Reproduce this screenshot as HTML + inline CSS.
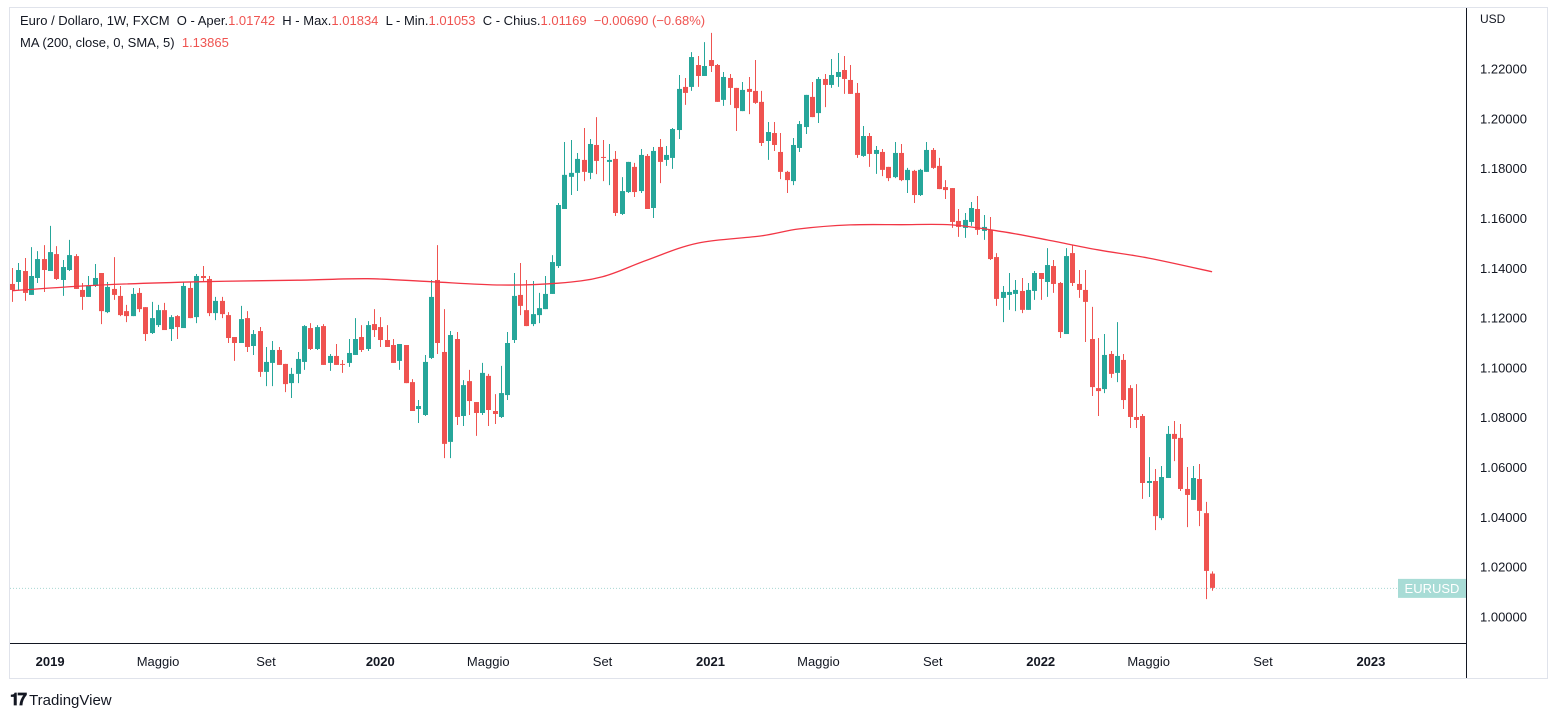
<!DOCTYPE html>
<html><head><meta charset="utf-8"><style>
html,body{margin:0;padding:0;background:#fff;width:1556px;height:716px;overflow:hidden;font-family:"Liberation Sans",sans-serif;}
#wrap{position:relative;width:1556px;height:716px;}
.hdr{position:absolute;left:20px;font-size:13px;color:#131722;white-space:pre;}
.hdr .v{color:#ef5350;}
</style></head><body>
<div id="wrap">
<svg id="chart" width="1556" height="716" style="position:absolute;left:0;top:0"></svg>
<div class="hdr" style="top:13px">Euro / Dollaro, 1W, FXCM  O - Aper.<span class="v">1.01742</span>  H - Max.<span class="v">1.01834</span>  L - Min.<span class="v">1.01053</span>  C - Chius.<span class="v">1.01169</span>  <span class="v">−0.00690 (−0.68%)</span></div>
<div class="hdr" style="top:35px">MA (200, close, 0, SMA, 5)  <span class="v">1.13865</span></div>
<div style="position:absolute;left:10px;top:690px;font-size:15px;color:#131722;font-weight:bold"><span style="font-size:17px;letter-spacing:-2px">𝟏𝟕</span> <span style="font-weight:normal">TradingView</span></div>
</div>
<script>
const opens=[1.1337,1.1345,1.1389,1.1293,1.1361,1.1437,1.1389,1.1457,1.1353,1.1393,1.1449,1.1313,1.1285,1.1329,1.1381,1.1224,1.1317,1.1289,1.1228,1.1208,1.1301,1.1244,1.1140,1.1172,1.1232,1.1156,1.1208,1.1160,1.1321,1.1204,1.1369,1.1357,1.1220,1.1269,1.1212,1.1124,1.1100,1.1200,1.1088,1.1148,1.0984,1.1020,1.1072,1.1016,1.0939,1.0976,1.1024,1.1160,1.1076,1.1168,1.1020,1.1048,1.1016,1.1020,1.1052,1.1124,1.1076,1.1176,1.1164,1.1112,1.1092,1.1028,1.1092,1.0943,1.0835,1.0811,1.1040,1.1353,1.1064,1.0703,1.1116,1.0807,1.0947,1.0863,1.0819,1.0968,1.0827,1.0803,1.0891,1.1112,1.1293,1.1232,1.1176,1.1212,1.1236,1.1297,1.1409,1.1638,1.1767,1.1783,1.1835,1.1783,1.1895,1.1847,1.1827,1.1839,1.1618,1.1706,1.1807,1.1710,1.1851,1.1642,1.1887,1.1835,1.1843,1.1955,1.2128,1.2128,1.2216,1.2172,1.2236,1.2216,1.2076,1.2164,1.2124,1.2031,1.2120,1.2112,1.2068,1.1911,1.1943,1.1867,1.1787,1.1750,1.1883,1.1967,1.2088,1.2023,1.2160,1.2136,1.2168,1.2196,1.2156,1.2104,1.1851,1.1931,1.1859,1.1867,1.1807,1.1766,1.1863,1.1754,1.1791,1.1694,1.1787,1.1875,1.1811,1.1726,1.1722,1.1590,1.1562,1.1586,1.1638,1.1550,1.1554,1.1445,1.1281,1.1293,1.1297,1.1309,1.1233,1.1309,1.1381,1.1345,1.1409,1.1341,1.1136,1.1461,1.1337,1.1313,1.1116,1.0919,1.0915,1.1056,1.0980,1.1032,1.0919,1.0803,1.0807,1.0538,1.0546,1.0397,1.0558,1.0735,1.0719,1.0514,1.0470,1.0554,1.0417,1.01742];
const highs=[1.1401,1.1421,1.1441,1.1485,1.1469,1.1493,1.1570,1.1489,1.1433,1.1514,1.1457,1.1341,1.1369,1.1417,1.1381,1.1345,1.1445,1.1329,1.1253,1.1321,1.1321,1.1244,1.1265,1.1253,1.1261,1.1212,1.1212,1.1345,1.1345,1.1377,1.1409,1.1369,1.1285,1.1285,1.1224,1.1124,1.1249,1.1228,1.1152,1.1164,1.1084,1.1108,1.1084,1.1016,1.1000,1.1064,1.1172,1.1180,1.1172,1.1176,1.1056,1.1096,1.1032,1.1116,1.1200,1.1172,1.1188,1.1236,1.1204,1.1172,1.1116,1.1096,1.1092,1.0955,1.0871,1.1052,1.1353,1.1493,1.1236,1.1148,1.1144,1.0951,1.0992,1.0863,1.1020,1.0976,1.0895,1.1008,1.1144,1.1381,1.1421,1.1353,1.1349,1.1301,1.1369,1.1453,1.1662,1.1907,1.1915,1.1863,1.1963,1.1919,1.2007,1.1915,1.1899,1.1871,1.1766,1.1827,1.1823,1.1879,1.1859,1.1887,1.1919,1.1891,1.1963,1.2176,1.2164,1.2268,1.2252,1.2308,1.2345,1.2220,1.2188,1.2180,1.2124,1.2148,1.2168,1.2236,1.2112,1.1987,1.1987,1.1943,1.1791,1.1923,1.1991,1.2096,1.2148,1.2168,1.2180,1.2240,1.2264,1.2252,1.2216,1.2144,1.1971,1.1943,1.1891,1.1879,1.1807,1.1907,1.1899,1.1803,1.1795,1.1799,1.1907,1.1883,1.1843,1.1754,1.1722,1.1638,1.1622,1.1666,1.1690,1.1614,1.1606,1.1461,1.1329,1.1381,1.1353,1.1361,1.1341,1.1389,1.1381,1.1481,1.1433,1.1345,1.1481,1.1493,1.1393,1.1393,1.1245,1.1120,1.1136,1.1068,1.1184,1.1056,1.0931,1.0935,1.0815,1.0642,1.0594,1.0606,1.0767,1.0787,1.0775,1.0602,1.0606,1.0614,1.0462,1.01834];
const lows=[1.1265,1.1313,1.1269,1.1293,1.1341,1.1305,1.1389,1.1353,1.1289,1.1389,1.1317,1.1233,1.1285,1.1325,1.1176,1.1220,1.1273,1.1208,1.1184,1.1208,1.1224,1.1108,1.1136,1.1164,1.1152,1.1108,1.1116,1.1160,1.1200,1.1180,1.1345,1.1208,1.1192,1.1200,1.1100,1.1028,1.1100,1.1064,1.1052,1.0964,1.0927,1.0927,1.1012,1.0903,1.0879,1.0939,1.0992,1.1072,1.1072,1.1012,1.0988,1.1012,1.0980,1.1004,1.1052,1.1064,1.1068,1.1124,1.1084,1.1084,1.1020,1.0992,1.0939,1.0827,1.0779,1.0807,1.1036,1.1056,1.0638,1.0638,1.0771,1.0767,1.0811,1.0727,1.0811,1.0767,1.0775,1.0799,1.0871,1.1100,1.1212,1.1168,1.1168,1.1180,1.1236,1.1297,1.1401,1.1638,1.1694,1.1710,1.1750,1.1758,1.1778,1.1750,1.1734,1.1610,1.1614,1.1702,1.1686,1.1702,1.1638,1.1602,1.1742,1.1811,1.1799,1.1919,1.2056,1.2112,1.2128,1.2172,1.2188,1.2068,1.2052,1.2056,1.1951,1.2031,1.2019,1.2060,1.1891,1.1835,1.1871,1.1758,1.1702,1.1734,1.1867,1.1939,1.2007,1.1983,1.2047,1.2124,1.2128,1.2100,1.2100,1.1843,1.1847,1.1807,1.1779,1.1770,1.1750,1.1762,1.1750,1.1702,1.1662,1.1690,1.1787,1.1799,1.1718,1.1678,1.1562,1.1526,1.1522,1.1570,1.1534,1.1514,1.1433,1.1249,1.1184,1.1233,1.1228,1.1220,1.1233,1.1273,1.1273,1.1285,1.1301,1.1120,1.1136,1.1329,1.1281,1.1104,1.0887,1.0807,1.0899,1.0960,1.0943,1.0835,1.0759,1.0759,1.0474,1.0482,1.0349,1.0389,1.0558,1.0626,1.0506,1.0361,1.0470,1.0365,1.0072,1.01053];
const closes=[1.1313,1.1393,1.1301,1.1369,1.1437,1.1393,1.1465,1.1357,1.1405,1.1453,1.1317,1.1285,1.1329,1.1361,1.1228,1.1325,1.1293,1.1212,1.1208,1.1297,1.1236,1.1136,1.1200,1.1232,1.1152,1.1204,1.1164,1.1329,1.1200,1.1369,1.1361,1.1220,1.1269,1.1216,1.1120,1.1100,1.1196,1.1084,1.1136,1.0984,1.1024,1.1072,1.1012,1.0935,1.0976,1.1036,1.1168,1.1076,1.1164,1.1012,1.1048,1.1012,1.1012,1.1060,1.1116,1.1072,1.1172,1.1152,1.1112,1.1084,1.1020,1.1096,1.0939,1.0827,1.0847,1.1024,1.1285,1.1100,1.0695,1.1132,1.0803,1.0931,1.0867,1.0819,1.0980,1.0831,1.0815,1.0899,1.1100,1.1289,1.1249,1.1168,1.1216,1.1240,1.1297,1.1425,1.1654,1.1775,1.1783,1.1839,1.1787,1.1899,1.1831,1.1843,1.1835,1.1622,1.1710,1.1827,1.1706,1.1855,1.1638,1.1871,1.1827,1.1855,1.1959,1.2120,1.2104,1.2248,1.2172,1.2212,1.2212,1.2068,1.2168,1.2124,1.2043,1.2116,1.2108,1.2064,1.1903,1.1947,1.1895,1.1787,1.1754,1.1895,1.1979,1.2096,1.2007,1.2160,1.2136,1.2176,1.2188,1.2160,1.2100,1.1855,1.1931,1.1859,1.1875,1.1795,1.1762,1.1863,1.1754,1.1795,1.1694,1.1795,1.1875,1.1803,1.1718,1.1714,1.1586,1.1566,1.1594,1.1642,1.1554,1.1566,1.1437,1.1277,1.1305,1.1305,1.1313,1.1233,1.1313,1.1381,1.1357,1.1413,1.1337,1.1144,1.1449,1.1341,1.1313,1.1265,1.0923,1.0907,1.1052,1.0976,1.1048,1.0871,1.0803,1.0791,1.0538,1.0546,1.0405,1.0562,1.0735,1.0715,1.0514,1.0490,1.0558,1.0426,1.0185,1.01169];
const maIdx=[0,14,30,45,56,66,77,86,93,100,108,118,124,132,140,148,156,163,171,179,189];
const maVal=[1.1310,1.1333,1.1346,1.1352,1.1358,1.1346,1.1333,1.1340,1.1366,1.1433,1.1501,1.1530,1.1558,1.1574,1.1575,1.1574,1.1547,1.1514,1.1474,1.1441,1.1386];
const priceTicks=[1.00,1.02,1.04,1.06,1.08,1.10,1.12,1.14,1.16,1.18,1.20,1.22];
const timeLabels=["2019","Maggio","Set","2020","Maggio","Set","2021","Maggio","Set","2022","Maggio","Set","2023"];
const timeWeeks=[6,23,40,58,75,93,110,127,145,162,179,197,214];
const lastPrice=1.01169;

const NS="http://www.w3.org/2000/svg";
const svg=document.getElementById('chart');
function yOf(p){return 617-(p-1.0)*2490.9;}
function xOf(i){return 12+i*6.35;}
function mk(tag,attrs,parent){const e=document.createElementNS(NS,tag);for(const k in attrs)e.setAttribute(k,attrs[k]);(parent||svg).appendChild(e);return e;}

const frame=mk('rect',{x:9.5,y:7.5,width:1538,height:671,fill:'none',stroke:'#e0e3eb'});


const ax=mk('line',{x1:1466.5,y1:8,x2:1466.5,y2:678,stroke:'#131722'});


const tx=mk('line',{x1:10,y1:643.5,x2:1466,y2:643.5,stroke:'#131722'});


const usd=mk('text',{x:1480,y:23,'font-size':12,fill:'#131722','font-family':'Liberation Sans'});
usd.textContent='USD';



priceTicks.forEach(p=>{
  const t=mk('text',{x:1480,y:yOf(p)+4.5,'font-size':13,fill:'#131722','font-family':'Liberation Sans'});
  t.textContent=p.toFixed(5);
  
  
});
timeLabels.forEach((s,k)=>{
  const bold=/^\d{4}$/.test(s);
  const t=mk('text',{x:xOf(timeWeeks[k]),y:666,'font-size':13,fill:'#131722','text-anchor':'middle','font-weight':bold?'bold':'normal','font-family':'Liberation Sans'});
  t.textContent=s;
  
  
});

const lp=mk('line',{x1:10,y1:yOf(lastPrice)+0.5,x2:1466,y2:yOf(lastPrice)+0.5,stroke:'#a8d8d2','stroke-dasharray':'1 2'});



const g=mk('g',{});


for(let i=0;i<closes.length;i++){
  const up=closes[i]>=opens[i];
  const col=up?'#26a69a':'#ef5350';
  const x=Math.round(xOf(i));
  const w=mk('line',{x1:x+0.5,x2:x+0.5,y1:yOf(highs[i]),y2:yOf(lows[i]),stroke:col,'stroke-width':1},g);
  
  
  const top=yOf(Math.max(opens[i],closes[i])),bot=yOf(Math.min(opens[i],closes[i]));
  const b=mk('rect',{x:x-2,y:top,width:5,height:Math.max(1,bot-top),fill:col},g);
  
  
}

// MA line (smooth Catmull-Rom through sampled points)
const P=maIdx.map((i,k)=>[xOf(i),yOf(maVal[k])]);
let d='M'+P[0][0].toFixed(1)+','+P[0][1].toFixed(1);
for(let k=0;k<P.length-1;k++){
  const p0=P[Math.max(0,k-1)],p1=P[k],p2=P[k+1],p3=P[Math.min(P.length-1,k+2)];
  const c1=[p1[0]+(p2[0]-p0[0])/6,p1[1]+(p2[1]-p0[1])/6];
  const c2=[p2[0]-(p3[0]-p1[0])/6,p2[1]-(p3[1]-p1[1])/6];
  d+='C'+c1[0].toFixed(1)+','+c1[1].toFixed(1)+' '+c2[0].toFixed(1)+','+c2[1].toFixed(1)+' '+p2[0].toFixed(1)+','+p2[1].toFixed(1);
}
const ma=mk('path',{d:d,fill:'none',stroke:'#f23645','stroke-width':1.3,'stroke-linejoin':'round'});



const ly=yOf(lastPrice);
const lb=mk('rect',{x:1398,y:ly-9,width:68,height:19,fill:'#a8dcd6'});


const lt=mk('text',{x:1432,y:ly+5,'font-size':13,fill:'#fff','text-anchor':'middle','font-family':'Liberation Sans'});
lt.textContent='EURUSD';


</script>
</body></html>
